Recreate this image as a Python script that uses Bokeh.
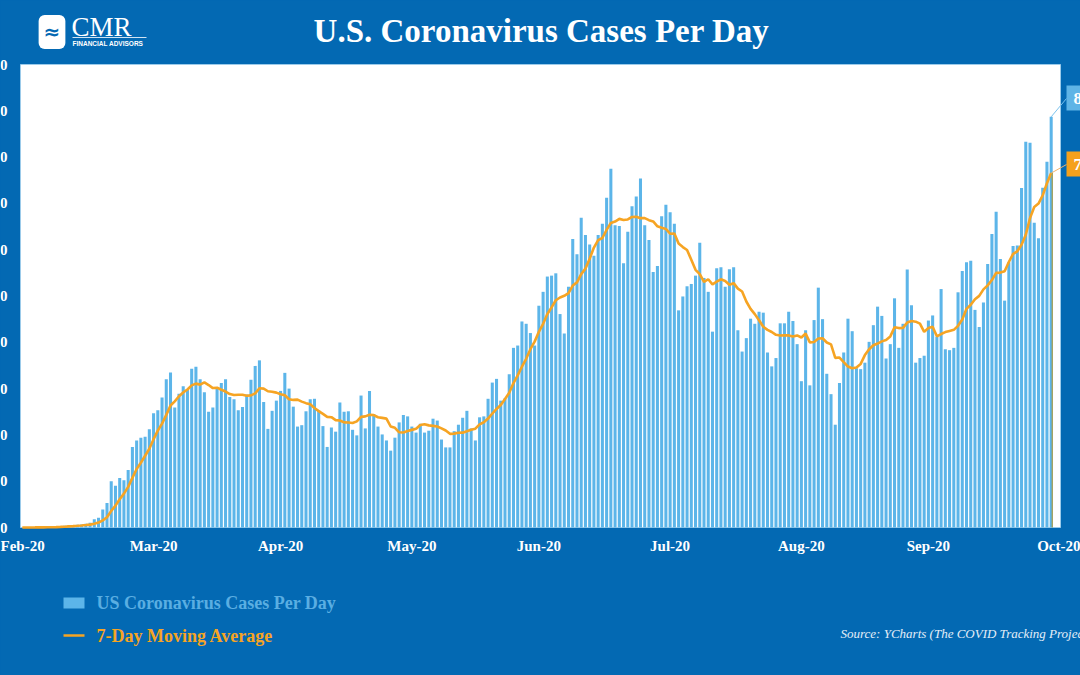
import pandas as pd
from bokeh.plotting import figure
from bokeh.models import (Range1d, FixedTicker, Label, Arrow, PolyAnnotation, ColumnDataSource,
                          LinearAxis, NumeralTickFormatter)
from bokeh.embed import file_html
from bokeh.resources import INLINE

# ---------------- data ----------------
cases = [
    10, 20, 15, 25, 60, 80, 110, 130, 190, 300, 360, 490, 500,
    580, 650, 790, 1000, 1800, 2100, 3900, 5300,
    10000, 9000, 10700, 10200, 12400, 17400, 18800, 19400, 19600, 21200,
    24700, 25300, 28100, 32000, 33500, 25900, 28900, 30500, 29700, 34300,
    34700, 32000, 29200, 25000, 25900, 30300, 31200, 32000,
    28200, 27700, 25300, 26000, 28700, 31900, 34900, 36100, 27100, 21300,
    25200, 27400, 29500, 33400, 30000, 26100, 21800, 22100, 25100, 27700,
    27800, 25300, 21900, 17400, 21600, 20700, 27000, 25000, 25100, 21100,
    19900, 28500, 21400, 29500, 24500, 21800, 20100, 18800, 16600, 19400,
    22700, 24300, 24000, 21800, 20500, 22400, 20500, 20900, 23500, 23100,
    19000, 17300, 17300, 20800, 22200, 23700, 25200, 21400, 18800, 23800,
    24000, 27800, 31300, 32100, 27400, 27900, 33100, 38800, 39300, 44500,
    44000, 42000, 39300, 47900, 50900, 54200, 54400, 54900, 46100, 41900,
    52000, 62300, 59000, 66900, 63200, 61100, 58700, 63200, 65600, 71200,
    77500, 65300, 65100, 57100, 63900, 69400, 71500, 75400,
    65300, 62100, 55200, 56500, 67200, 69700, 68100, 65600, 46900, 49900,
    52100, 52600, 54400, 61500, 53900, 50900, 42300, 56000, 56200, 52000,
    55800, 56200, 42600, 38000, 40900, 45100, 44000, 46600, 46400, 37800,
    34800, 36600, 44100, 44100, 46600, 44600, 39600, 31600, 42600, 30700,
    44800, 51800, 45000, 33200, 28800, 22200, 31200, 37800, 45100,
    42400, 34400, 34200, 35600, 40100, 43700, 47700, 45700, 36500, 39600,
    49500, 38800, 44000, 55700, 48000, 35600, 36600, 37100, 44700, 45800,
    41200, 51500, 38500, 38300, 38800, 50800, 55400, 57300, 57600, 47000,
    43300, 48600, 56900, 63400, 68200, 58000, 49000, 57300, 60800, 60900,
    73300, 83300, 83100, 65800, 62500, 73400, 79000, 88700,
]
x_tick_pos = [0, 31, 61, 92, 122, 153, 184, 214, 245]
x_tick_labels = ["Feb-20", "Mar-20", "Apr-20", "May-20", "Jun-20",
                 "Jul-20", "Aug-20", "Sep-20", "Oct-20"]
y_ticks = [0, 10000, 20000, 30000, 40000, 50000, 60000, 70000, 80000, 90000, 100000]

title_text = "U.S. Coronavirus Cases Per Day"
bar_name = "US Coronavirus Cases Per Day"
line_name = "7-Day Moving Average"
source_text = "Source: YCharts (The COVID Tracking Project)"

days = list(range(len(cases)))
ma = pd.Series(cases).rolling(7, min_periods=1).mean().tolist()
src = ColumnDataSource(dict(day=days, cases=cases, ma=ma))

# ---------------- layout & styles ----------------
W, H = 1080, 675
PL, PR, PT, PB = 20, 1060, 64, 527          # plot-area box in canvas pixels
X0, X1 = -0.43, 245.2                        # x domain shown in the plot area
Y0, Y1 = y_ticks[0], y_ticks[-1]             # y domain shown in the plot area
ux = (X1 - X0) / (PR - PL)
uy = (Y1 - Y0) / (PB - PT)

BG = "#0369b3"
BAR = "#5cb5e9"
ORANGE = "#f6a423"
SERIF = "Liberation Serif"

p = figure(width=W, height=H, output_backend="svg", toolbar_location=None, title=None,
           x_range=Range1d(X0 - PL * ux, X1 + (W - PR) * ux),
           y_range=Range1d(Y0 - (H - PB) * uy, Y1 + PT * uy),
           x_axis_location=None, y_axis_location=None,
           min_border=0, min_border_left=0, min_border_right=0,
           min_border_top=0, min_border_bottom=0,
           background_fill_color=BG, border_fill_color=BG, outline_line_color=None)
p.grid.visible = False

# white plot area
p.quad(left=[X0], right=[X1], bottom=[Y0], top=[Y1], fill_color="white",
       line_color="#9ccbea", line_width=1)

p.vbar(x="day", top="cases", width=0.72, source=src, fill_color=BAR, line_color=None)
p.line(x="day", y="ma", source=src, line_color=ORANGE, line_width=2.6)
p.segment(x0=[days[-1] + 0.25], y0=[0], x1=[days[-1] + 0.25], y1=[ma[-1]],
          line_color="#a99c48", line_width=1.2)

# axes fixed at the plot-area edges
xax = LinearAxis(fixed_location=Y0, ticker=FixedTicker(ticks=x_tick_pos),
                 major_label_overrides={t: l for t, l in zip(x_tick_pos, x_tick_labels)},
                 axis_line_color=None, major_tick_line_color=None, minor_tick_line_color=None,
                 major_tick_out=0, major_tick_in=0, major_label_standoff=10,
                 major_label_text_color="white", major_label_text_font=SERIF,
                 major_label_text_font_style="bold", major_label_text_font_size="15px")
p.add_layout(xax, "below")
yax = LinearAxis(fixed_location=X0, ticker=FixedTicker(ticks=y_ticks),
                 formatter=NumeralTickFormatter(format="0,0"),
                 axis_line_color=None, major_tick_line_color=None, minor_tick_line_color=None,
                 major_tick_out=0, major_tick_in=0, major_label_standoff=13,
                 major_label_text_color="white", major_label_text_font=SERIF,
                 major_label_text_font_style="bold", major_label_text_font_size="15px")
p.add_layout(yax, "left")


def lab(cx, cy, text, **kw):
    """Label placed in canvas pixels (y measured from the top)."""
    opts = dict(text_color="white", text_font=SERIF, text_align="left", text_baseline="middle")
    opts.update(kw)
    p.add_layout(Label(x=cx, y=H - cy, x_units="screen", y_units="screen", text=text, **opts))


# title
lab(541, 30, title_text, text_align="center", text_font_style="bold", text_font_size="33px")

# logo
lab(51.5, 31.5, "\u2248", text_align="center", text_color=BG, text_font="DejaVu Sans",
    text_font_style="bold", text_font_size="20px", background_fill_color="white",
    padding=5, border_radius=6)
lab(71, 26.5, "CMR", text_font_size="27px")
p.add_layout(Arrow(end=None, x_start=72, y_start=H - 37, x_end=146, y_end=H - 37,
                   start_units="screen", end_units="screen", line_color="#cfe3f3", line_width=1))
lab(72, 42.5, "FINANCIAL ADVISORS", text_font="Liberation Sans", text_font_style="bold",
    text_font_size="6.5px")

# legend
p.add_layout(PolyAnnotation(xs=[63, 84, 84, 63], ys=[H - 597, H - 597, H - 608, H - 608],
                            xs_units="screen", ys_units="screen",
                            fill_color=BAR, fill_alpha=1, line_color=None))
lab(96, 602, bar_name, text_color="#5aaee2", text_font_style="bold", text_font_size="18px")
p.add_layout(Arrow(end=None, x_start=63, y_start=H - 635, x_end=84, y_end=H - 635,
                   start_units="screen", end_units="screen", line_color=ORANGE, line_width=2.5))
lab(96, 635, line_name, text_color=ORANGE, text_font_style="bold", text_font_size="18px")

# source note
lab(840, 633, source_text, text_color="#e3eef8", text_font_style="italic",
    text_font_size="13px")

# end-value callouts (box left edge at x, text inset by the padding)
p.add_layout(Arrow(end=None, x_start=days[-1], y_start=cases[-1], start_units="data",
                   x_end=1066, y_end=H - 98, end_units="screen",
                   line_color="#7cc3ee", line_width=1))
lab(1066, 97.5, f"{cases[-1]:,}", text_font_style="bold", text_font_size="17px",
    background_fill_color="#5fb4e6", padding=7)
p.add_layout(Arrow(end=None, x_start=days[-1], y_start=ma[-1], start_units="data",
                   x_end=1066, y_end=H - 164, end_units="screen",
                   line_color="#f3b36a", line_width=1))
lab(1066, 163.5, f"{round(ma[-1]):,}", text_font_style="bold", text_font_size="17px",
    background_fill_color="#f5a11c", padding=7)

html = file_html(p, INLINE, title=title_text)
html = html.replace("<head>", "<head><style>html,body{margin:0;padding:0;background:%s;overflow:hidden;}</style>" % BG, 1)
open("out.html", "w").write(html)
